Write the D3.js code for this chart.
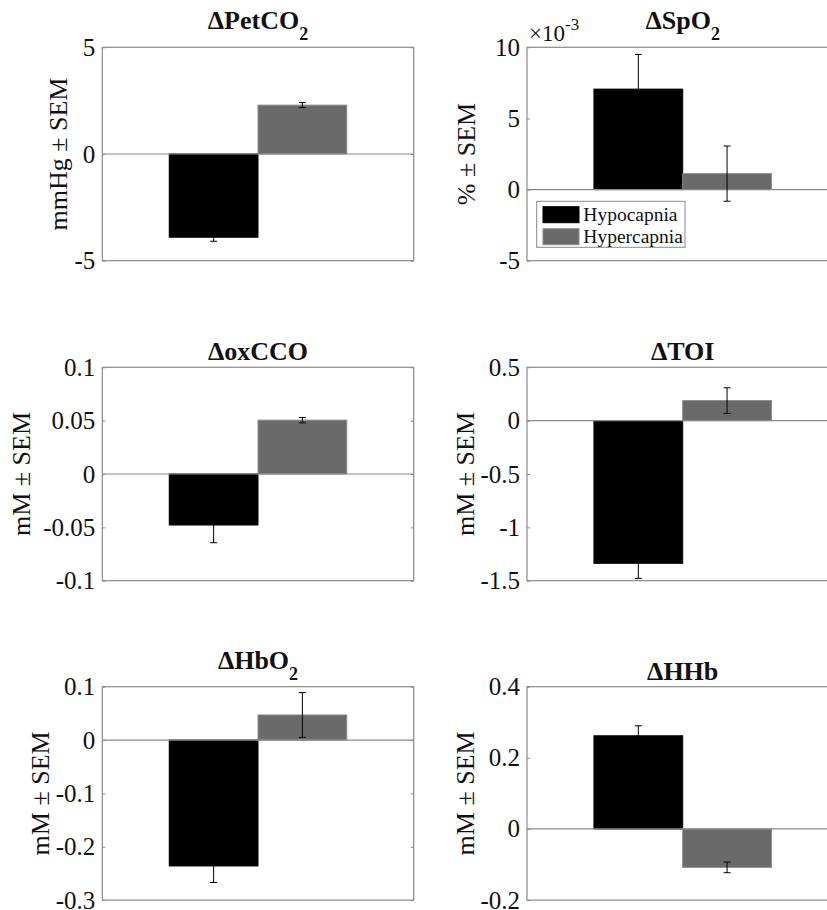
<!DOCTYPE html>
<html>
<head>
<meta charset="utf-8">
<script src="https://cdn.jsdelivr.net/npm/d3@7"></script>
<style>
  body { margin: 0; background: #fff; }
  svg text { font-family: "Liberation Serif", "Times New Roman", Times, serif !important; }
</style>
</head>
<body>
<svg id="chart" width="827" height="910"></svg>
<script>
// one entry per panel, reading order (left->right, top->bottom)
const titles = ["\u0394PetCO", "\u0394SpO", "\u0394oxCCO", "\u0394TOI", "\u0394HbO", "\u0394HHb"];
const titleSubs = ["2", "2", "", "", "2", ""];
const yLabels = ["mmHg \u00b1 SEM", "% \u00b1 SEM", "mM \u00b1 SEM", "mM \u00b1 SEM", "mM \u00b1 SEM", "mM \u00b1 SEM"];

const groups = ["Hypocapnia", "Hypercapnia"];
const hypoMean = [-3.9, 0.00706, -0.0478, -1.337, -0.236, 0.262];
const hypoSem = [0.19, 0.00244, 0.0166, 0.141, 0.031, 0.028];
const hyperMean = [2.29, 0.00112, 0.0505, 0.188, 0.047, -0.108];
const hyperSem = [0.12, 0.00194, 0.0025, 0.12, 0.042, 0.015];

const yMin = [-5, -0.005, -0.1, -1.5, -0.3, -0.2];
const yMax = [5, 0.01, 0.1, 0.5, 0.1, 0.4];
const yTicks = [
  [-5, 0, 5],
  [-0.005, 0, 0.005, 0.01],
  [-0.1, -0.05, 0, 0.05, 0.1],
  [-1.5, -1, -0.5, 0, 0.5],
  [-0.3, -0.2, -0.1, 0, 0.1],
  [-0.2, 0, 0.2, 0.4]
];
const yTickLabels = [
  ["-5", "0", "5"],
  ["-5", "0", "5", "10"],
  ["-0.1", "-0.05", "0", "0.05", "0.1"],
  ["-1.5", "-1", "-0.5", "0", "0.5"],
  ["-0.3", "-0.2", "-0.1", "0", "0.1"],
  ["-0.2", "0", "0.2", "0.4"]
];
const exponentLabel = ["", "-3", "", "", "", ""];

// layout
const colLeft = [102.3, 527];
const rowTop = [47.3, 367.3, 686.7];
const boxW = 311.4, boxH = 213.4;
const labelOffset = [44, 61, 81, 62, 62, 62]; // ylabel centre distance left of box

const axisColor = "#8a8a8a";
const colors = { "Hypocapnia": "#000000", "Hypercapnia": "#6a6a6a" };
const edgeColors = { "Hypocapnia": "#000000", "Hypercapnia": "#8c8c8c" };

const svg = d3.select("#chart");

for (let i = 0; i < 6; i++) {
  const left = colLeft[i % 2];
  const top = rowTop[Math.floor(i / 2)];
  const g = svg.append("g").attr("transform", `translate(${left},${top})`);

  const x = d3.scaleBand()
    .domain(groups)
    .range([0.215 * boxW, 0.785 * boxW])
    .paddingInner(0);

  const y = d3.scaleLinear()
    .domain([yMin[i], yMax[i]])
    .range([boxH, 0]);

  const data = [
    { group: groups[0], mean: hypoMean[i], sem: hypoSem[i] },
    { group: groups[1], mean: hyperMean[i], sem: hyperSem[i] }
  ];

  // white axes background
  g.append("rect").attr("width", boxW).attr("height", boxH).attr("fill", "#fff");

  // bars
  g.selectAll(".bar")
    .data(data)
    .enter()
    .append("rect")
    .attr("class", "bar")
    .attr("x", d => x(d.group))
    .attr("y", d => y(Math.max(0, d.mean)))
    .attr("width", x.bandwidth())
    .attr("height", d => Math.abs(y(d.mean) - y(0)))
    .attr("fill", d => colors[d.group])
    .attr("stroke", d => edgeColors[d.group])
    .attr("stroke-width", 1);

  // zero baseline
  g.append("line")
    .attr("x1", 0).attr("x2", boxW)
    .attr("y1", y(0)).attr("y2", y(0))
    .attr("stroke", axisColor).attr("stroke-width", 1.2);

  // error bars (black, so the part over the black bar disappears)
  const eb = g.selectAll(".err")
    .data(data)
    .enter()
    .append("g")
    .attr("class", "err")
    .attr("stroke", "#000")
    .attr("stroke-width", 1);
  eb.append("line")
    .attr("x1", d => x(d.group) + x.bandwidth() / 2)
    .attr("x2", d => x(d.group) + x.bandwidth() / 2)
    .attr("y1", d => y(d.mean - d.sem))
    .attr("y2", d => y(d.mean + d.sem));
  [-1, 1].forEach(s => {
    eb.append("line")
      .attr("x1", d => x(d.group) + x.bandwidth() / 2 - 3.5)
      .attr("x2", d => x(d.group) + x.bandwidth() / 2 + 3.5)
      .attr("y1", d => y(d.mean + s * d.sem))
      .attr("y2", d => y(d.mean + s * d.sem));
  });

  // axes
  const labels = yTickLabels[i];
  const yAxis = d3.axisLeft(y)
    .tickValues(yTicks[i])
    .tickFormat((d, k) => labels[k])
    .tickSizeInner(-3)
    .tickSizeOuter(0)
    .tickPadding(7);
  const ga = g.append("g").call(yAxis);
  ga.select(".domain").remove();
  ga.selectAll("line").attr("stroke", axisColor);
  ga.selectAll("text")
    .attr("font-size", 25)
    .attr("fill", "#111");

  const gr = g.append("g")
    .attr("transform", `translate(${boxW},0)`)
    .call(d3.axisRight(y).tickValues(yTicks[i]).tickFormat("").tickSizeInner(-3).tickSizeOuter(0));
  gr.select(".domain").remove();
  gr.selectAll("line").attr("stroke", axisColor);

  // box
  g.append("rect")
    .attr("width", boxW).attr("height", boxH)
    .attr("fill", "none")
    .attr("stroke", axisColor)
    .attr("stroke-width", 1.2);

  // exponent marker
  if (exponentLabel[i]) {
    const ex = g.append("text")
      .attr("x", 2).attr("y", -6)
      .attr("font-size", 23)
      .attr("fill", "#111");
    ex.append("tspan").text("\u00d710");
    ex.append("tspan").attr("font-size", 17).attr("dy", -11).text(exponentLabel[i]);
  }

  // title
  const hasSub = titleSubs[i] !== "";
  const t = g.append("text")
    .attr("x", boxW / 2)
    .attr("y", hasSub ? -18 : -7)
    .attr("text-anchor", "middle")
    .attr("font-weight", "bold")
    .attr("font-size", 26)
    .attr("fill", "#111");
  t.append("tspan").text(titles[i]);
  if (hasSub) t.append("tspan").attr("font-size", 18).attr("dy", 11).text(titleSubs[i]);

  // y label
  g.append("text")
    .attr("transform", `translate(${-labelOffset[i]},${boxH / 2}) rotate(-90)`)
    .attr("text-anchor", "middle")
    .attr("dominant-baseline", "central")
    .attr("font-size", 26)
    .attr("fill", "#111")
    .text(yLabels[i]);

  // legend sits in the SpO2 panel
  if (i === 1) {
    const lg = g.append("g").attr("transform", "translate(9.7,154)");
    lg.append("rect")
      .attr("width", 148.3).attr("height", 46)
      .attr("fill", "#fff").attr("stroke", axisColor).attr("stroke-width", 1);
    groups.forEach((name, k) => {
      lg.append("rect")
        .attr("x", 6.3).attr("y", 5.4 + k * 22)
        .attr("width", 36).attr("height", 16)
        .attr("fill", colors[name])
        .attr("stroke", edgeColors[name]);
      lg.append("text")
        .attr("x", 46.6).attr("y", 19.5 + k * 22)
        .attr("font-size", 19.5)
        .attr("fill", "#111")
        .text(name);
    });
  }
}
</script>
</body>
</html>
